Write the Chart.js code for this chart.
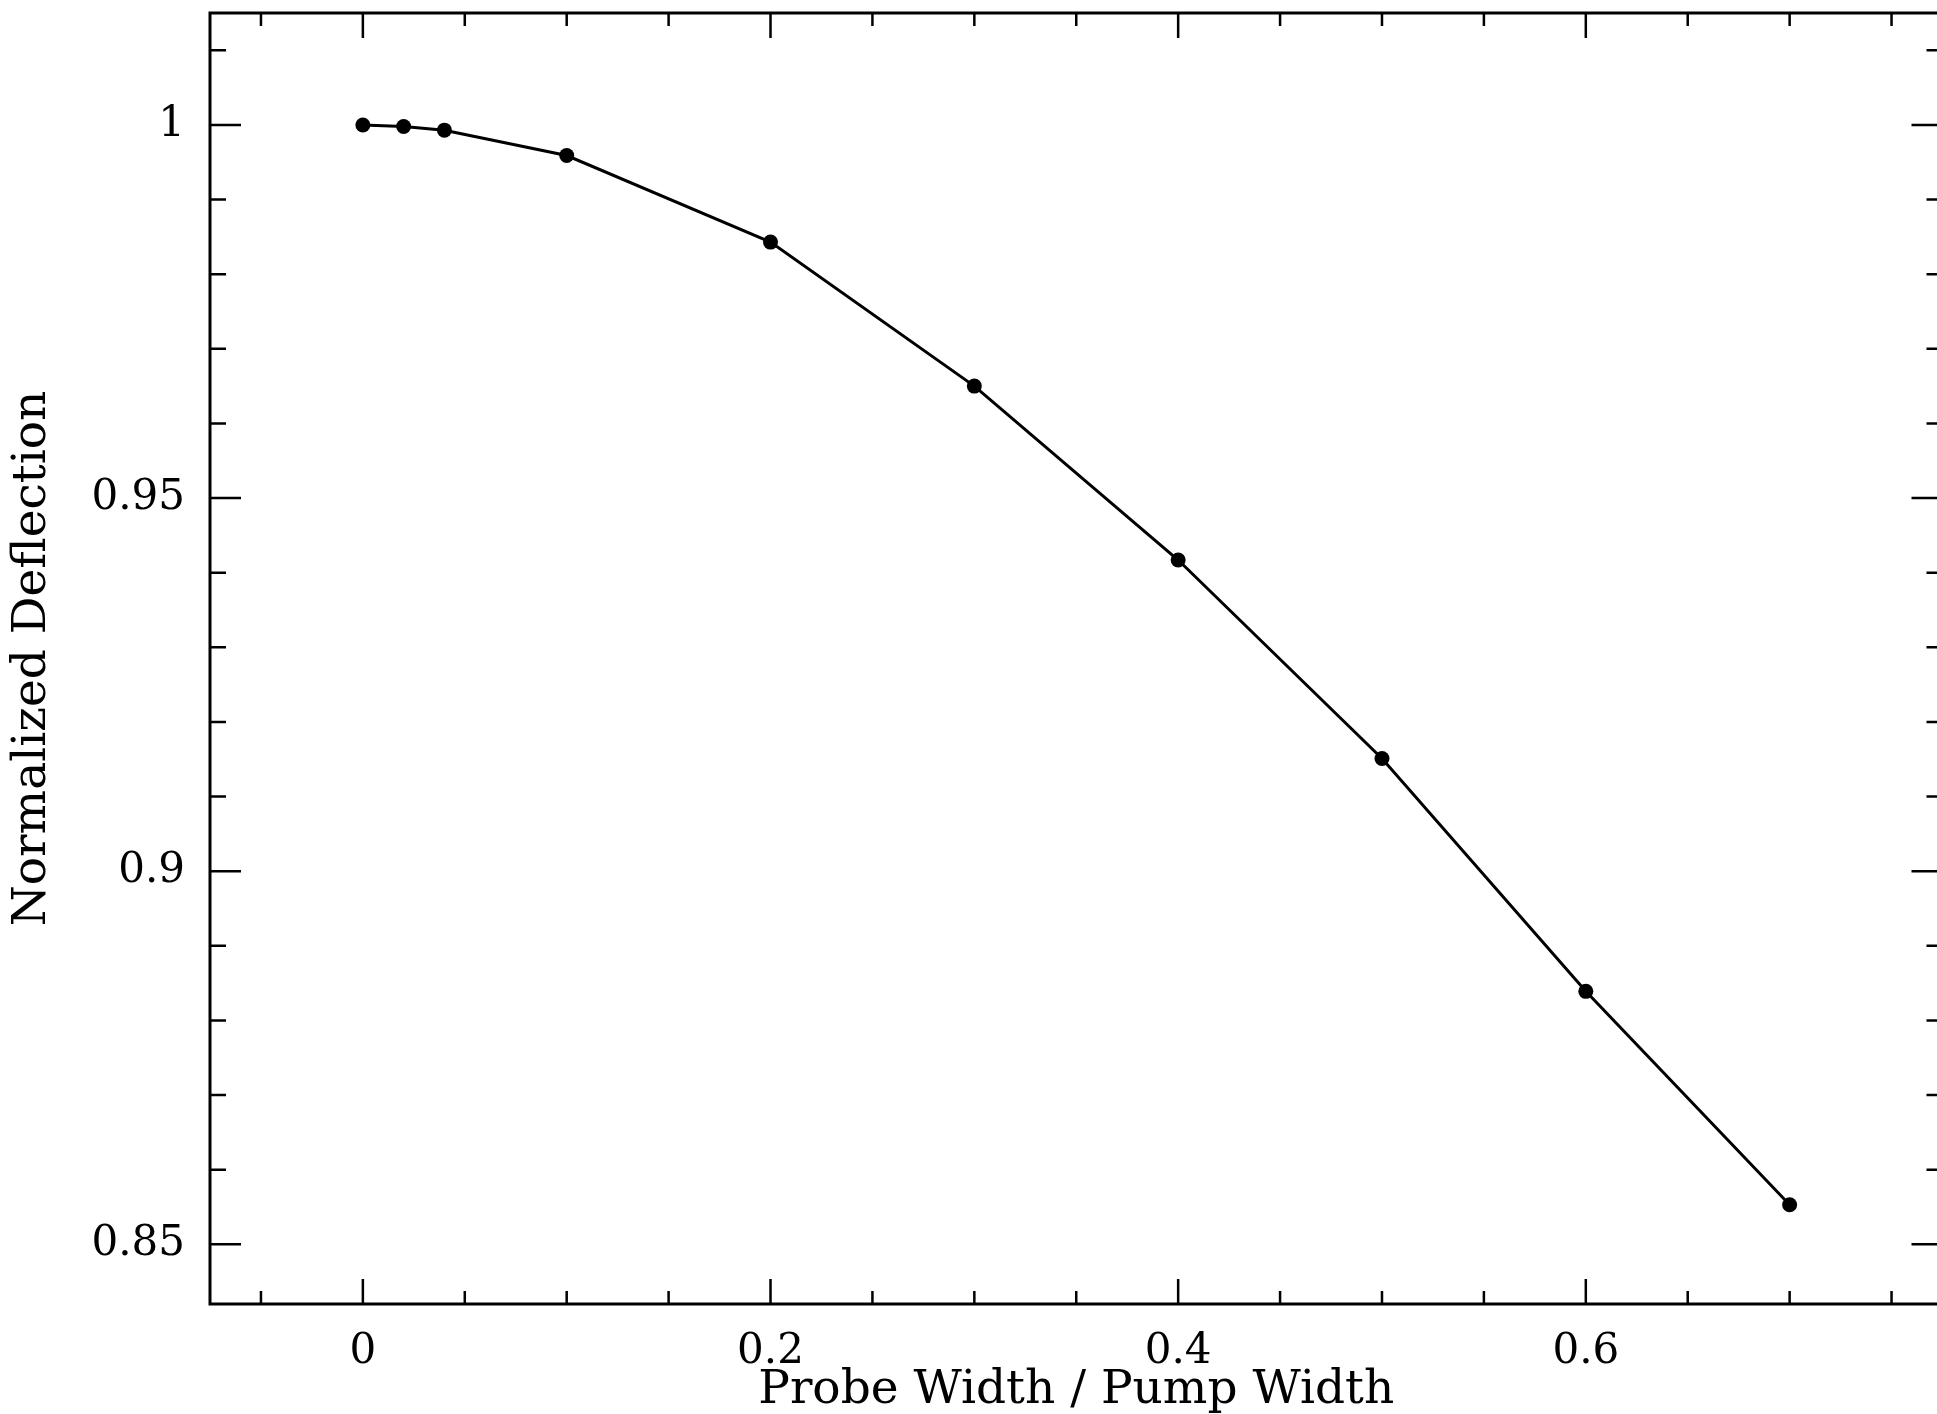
<!DOCTYPE html>
<html>
<head>
<meta charset="utf-8">
<title>Normalized Deflection</title>
<script src="https://cdn.jsdelivr.net/npm/chart.js@4/dist/chart.umd.min.js"></script>
<style>
    html, body { margin: 0; padding: 0; background: #fff; overflow: hidden; }
    #wrap { width: 1950px; height: 1414px; position: relative; }
</style>
</head>
<body>
<div id="wrap"><canvas id="deflectionChart"></canvas></div>
<script>
// Probe / pump width ratio and the measured normalized deflection
const widthRatio = [0, 0.02, 0.04, 0.1, 0.2, 0.3, 0.4, 0.5, 0.6, 0.7];
const deflection = [1.0, 0.9998, 0.9993, 0.9959, 0.9843, 0.9650, 0.9417, 0.9151, 0.8839, 0.8553];

// Axis ranges and tick marks
const xRange = [-0.075, 0.775];
const yRange = [0.842, 1.015];
const xMajorTicks = [0, 0.2, 0.4, 0.6];
const xTickLabels = ['0', '0.2', '0.4', '0.6'];
const xMinorStep = 0.05;
const yMajorTicks = [0.85, 0.9, 0.95, 1];
const yTickLabels = ['0.85', '0.9', '0.95', '1'];
const yMinorStep = 0.01;

const xTitle = 'Probe Width / Pump Width';
const yTitle = 'Normalized Deflection';

const FONT = "'DejaVu Serif', 'Liberation Serif', serif";

function stepTicks(range, step) {
    const out = [];
    const first = Math.ceil(range[0] / step - 1e-9);
    const last = Math.floor(range[1] / step + 1e-9);
    for (let i = first; i <= last; i++) out.push(+(i * step).toFixed(4));
    return out;
}

function labelFor(value, majors, labels) {
    const i = majors.findIndex(m => Math.abs(m - value) < 1e-6);
    return i >= 0 ? labels[i] : '';
}

// Frame on all four sides with inward ticks, major ones longer
const framePlugin = {
    id: 'frame',
    afterDraw(chart) {
        const { ctx, chartArea: a, scales } = chart;
        ctx.save();
        ctx.strokeStyle = '#000';
        ctx.lineWidth = 3;
        ctx.strokeRect(a.left, a.top, a.right - a.left, a.bottom - a.top);

        ctx.lineWidth = 2.5;
        ctx.beginPath();
        scales.x.ticks.forEach(t => {
            const px = scales.x.getPixelForValue(t.value);
            const len = t.label ? 25 : 13;
            ctx.moveTo(px, a.bottom); ctx.lineTo(px, a.bottom - len);
            ctx.moveTo(px, a.top); ctx.lineTo(px, a.top + len);
        });
        scales.y.ticks.forEach(t => {
            const py = scales.y.getPixelForValue(t.value);
            const len = t.label ? 31 : 16;
            ctx.moveTo(a.left, py); ctx.lineTo(a.left + len, py);
            ctx.moveTo(a.right, py); ctx.lineTo(a.right - len, py);
        });
        ctx.stroke();
        ctx.restore();
    }
};

new Chart(document.getElementById('deflectionChart').getContext('2d'), {
    type: 'scatter',
    data: {
        datasets: [{
            data: widthRatio.map((x, i) => ({ x: x, y: deflection[i] })),
            showLine: true,
            borderColor: '#000',
            borderWidth: 3,
            backgroundColor: '#000',
            pointRadius: 7.5,
            pointHoverRadius: 7.5,
            pointBorderWidth: 0,
            tension: 0
        }]
    },
    options: {
        responsive: true,
        maintainAspectRatio: false,
        animation: false,
        events: [],
        layout: { padding: { top: 13, right: 7, left: 0, bottom: 0 } },
        plugins: {
            legend: { display: false },
            tooltip: { enabled: false }
        },
        scales: {
            x: {
                type: 'linear',
                min: xRange[0],
                max: xRange[1],
                afterBuildTicks: scale => {
                    scale.ticks = stepTicks(xRange, xMinorStep).map(v => ({ value: v }));
                },
                afterFit: scale => {
                    scale.height = 110;
                    scale.paddingLeft = 0;
                    scale.paddingRight = 0;
                },
                grid: { display: false, drawTicks: false },
                border: { display: false },
                ticks: {
                    autoSkip: false,
                    maxRotation: 0,
                    padding: 23,
                    color: '#000',
                    font: { family: FONT, size: 42 },
                    callback: value => labelFor(value, xMajorTicks, xTickLabels)
                },
                title: {
                    display: true,
                    text: xTitle,
                    color: '#000',
                    font: { family: FONT, size: 47, lineHeight: 1 },
                    padding: { top: 0, bottom: 0 }
                }
            },
            y: {
                type: 'linear',
                min: yRange[0],
                max: yRange[1],
                afterBuildTicks: scale => {
                    scale.ticks = stepTicks(yRange, yMinorStep).map(v => ({ value: v }));
                },
                afterFit: scale => {
                    scale.width = 210;
                    scale.paddingTop = 0;
                    scale.paddingBottom = 0;
                },
                grid: { display: false, drawTicks: false },
                border: { display: false },
                ticks: {
                    autoSkip: false,
                    padding: 25,
                    color: '#000',
                    font: { family: FONT, size: 42 },
                    callback: value => labelFor(value, yMajorTicks, yTickLabels)
                },
                title: {
                    display: true,
                    text: yTitle,
                    color: '#000',
                    font: { family: FONT, size: 47 },
                    padding: { top: 5, bottom: 0 }
                }
            }
        }
    },
    plugins: [framePlugin]
});
</script>
</body>
</html>
